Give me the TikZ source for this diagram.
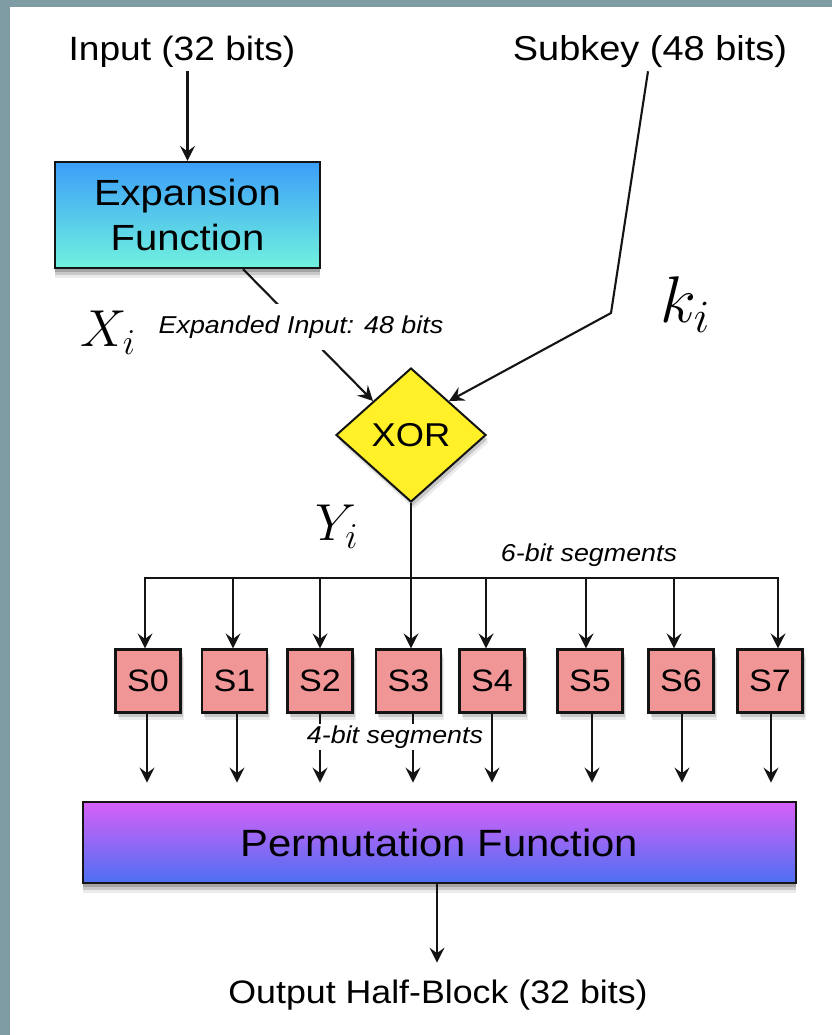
\RequirePackage{fix-cm}
\documentclass[tikz,border=0pt]{standalone}
\usepackage[no-math]{fontspec}
\setmainfont{Liberation Sans}[FakeStretch=1.1]
\usetikzlibrary{arrows.meta,shapes.geometric,shadows,calc}
\definecolor{framegray}{RGB}{127,155,163}
\definecolor{edgecol}{RGB}{20,20,20}
\definecolor{exptop}{RGB}{60,158,248}
\definecolor{expbot}{RGB}{112,242,222}
\definecolor{permtop}{RGB}{215,96,247}
\definecolor{permbot}{RGB}{76,112,242}
\definecolor{sboxfill}{RGB}{240,150,150}
\definecolor{xorfill}{RGB}{255,240,40}
\newcommand\fsz[2]{\fontsize{#1}{#2}\selectfont}
\begin{document}
\begin{tikzpicture}[x=1pt,y=-1pt,
  lbl/.style={inner sep=3pt, text=black},
  ital/.style={inner sep=3pt, font=\fsz{24.4}{28}\itshape},
  mathlbl/.style={inner sep=0pt},
  shad/.style={
    general shadow={shadow xshift=0pt, shadow yshift=-10pt, fill=black, opacity=0.08},
    general shadow={shadow xshift=0pt, shadow yshift=-7pt, fill=black, opacity=0.14},
    general shadow={shadow xshift=0pt, shadow yshift=-4pt, fill=black, opacity=0.18}},
  sshad/.style={
    general shadow={shadow xshift=3pt, shadow yshift=-7pt, fill=black, opacity=0.08},
    general shadow={shadow xshift=2pt, shadow yshift=-4pt, fill=black, opacity=0.15}},
  expbox/.style={draw=edgecol, line width=2.2pt, top color=exptop, bottom color=expbot, minimum width=265pt, minimum height=106pt, inner sep=0pt, align=center, font=\fsz{36.4}{45}, shad},
  permbox/.style={draw=edgecol, line width=2.2pt, top color=permtop, bottom color=permbot, minimum width=713pt, minimum height=81pt, inner sep=0pt, font=\fsz{38}{44}, shad},
  sbox/.style={draw=edgecol, line width=2.2pt, fill=sboxfill, minimum width=65pt, minimum height=63pt, inner sep=0pt, font=\fsz{31}{36}, sshad},
  xorshape/.style={diamond, draw=edgecol, line width=2pt, fill=xorfill, minimum width=150pt, minimum height=134pt, inner sep=0pt, font=\fsz{33}{36}, sshad},
  line/.style={draw=edgecol, line width=2.2pt, line cap=rect},
  arr/.style={draw=edgecol, line width=2.1pt, -{Stealth[length=15pt,width=15pt,inset=5.5pt]}}
]
\fill[framegray] (0,0) rectangle (832,1035);
\fill[white] (10,7) rectangle (832,1035);
\useasboundingbox (0,0) rectangle (832,1035);

% text labels
\node[lbl, font=\fsz{33.7}{38}] (input) at (182,52) {Input (32 bits)};
\node[lbl, font=\fsz{34.5}{38}] (subkey) at (650,52) {Subkey (48 bits)};
\node[lbl, font=\fsz{32.5}{38}] (output) at (438,995) {Output Half-Block (32 bits)};

% main blocks
\node[expbox] (exp) at (187.5,215) {Expansion\\Function};
\node[xorshape] (xor) at (411,435) {XOR};
\node[permbox] (perm) at (439.5,842.5) {Permutation Function};

% S boxes
\node[sbox] (s0) at (148,681) {S0};
\node[sbox] (s1) at (234.5,681) {S1};
\node[sbox] (s2) at (320,681) {S2};
\node[sbox] (s3) at (408.5,681) {S3};
\node[sbox] (s4) at (492,681) {S4};
\node[sbox] (s5) at (590,681) {S5};
\node[sbox] (s6) at (681,681) {S6};
\node[sbox] (s7) at (770,681) {S7};

% connectors
\draw[arr] (exp.north |- input.south) -- (exp.north);
\draw[arr] ([xshift=55.5pt]exp.south) -- (xor.north west);
\coordinate (kc) at (611,313);
\draw[arr] ([xshift=-2pt]subkey.south) -- (kc) -- (xor.north east);

\coordinate (busL) at (145,578);
\coordinate (busR) at (778,578);
\draw[line] (busL) -- (busR);
\draw[arr] (xor.south) -- (xor.south |- s3.north);
\foreach \n/\o in {s0/-3, s1/-1.5, s2/0, s4/-6, s5/-4, s6/-7, s7/8}{
  \draw[arr] ([xshift=\o pt]\n.north |- busL) -- ([xshift=\o pt]\n.north);
}
\foreach \n/\o in {s0/-1, s1/2.5, s2/0, s3/4.5, s4/0, s5/2, s6/1, s7/1}{
  \draw[arr] ([xshift=\o pt]\n.south) -- ++(0,69);
}
\draw[arr, shorten >=14pt] ([xshift=-2.5pt]perm.south) -- ([xshift=-2.5pt]perm.south |- output.north);

% small italic labels
\node[ital, fill=white, inner ysep=12pt, inner xsep=2pt] (explbl) at (301,327) {Expanded Input: 48 bits};
\node[ital] (seg6) at (589,555) {6-bit segments};
\node[ital, fill=white, inner sep=2pt] (seg4) at (395,737) {4-bit segments};

% math labels
\node[mathlbl, font=\fsz{52}{60}] (xi) at (108,333) {$X_i$};
\node[mathlbl, font=\fsz{52}{60}] (yi) at (337,527) {$Y_i$};
\node[mathlbl, font=\fsz{66}{74}] (ki) at (685,305) {$k_i$};
\end{tikzpicture}
\end{document}
